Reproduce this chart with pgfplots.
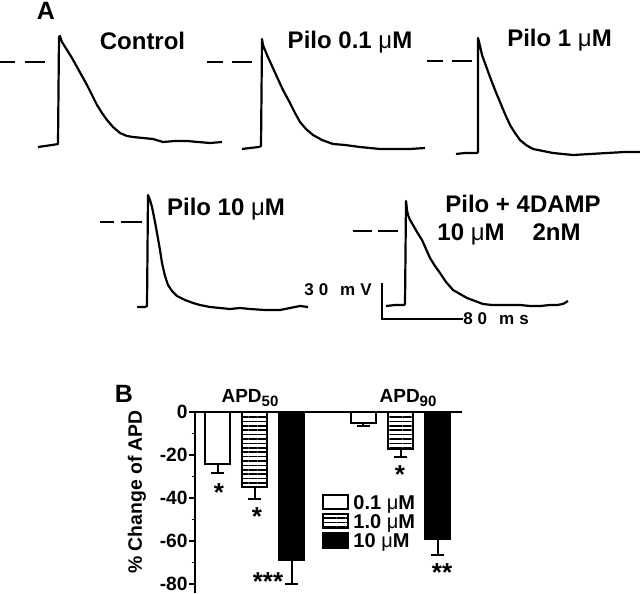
\documentclass[border=0pt]{standalone}
\usepackage{fontspec}
\setmainfont{Liberation Sans}
\usepackage{pgfplots}
\pgfplotsset{compat=1.18}
\usetikzlibrary{patterns.meta}

% 1 px of the reference = 0.5pt
\pgfplotsset{
  trace/.style={black, line width=1.1pt, no markers, line join=round},
  dash/.style={black, line width=1.3pt, no markers},
  boxleg/.style={legend image code/.code={\draw[##1] (0pt,-3.6pt) rectangle (12.5pt,3.6pt);}},
  errs/.style={error bars/.cd, y dir=minus, y explicit, error bar style={line width=1pt},
    error mark options={rotate=90, line width=1pt, mark size=3.25pt}},
}
\tikzset{hatch/.style={pattern={Lines[angle=0,distance=2.2pt,line width=0.85pt]}}}
\newcommand{\lbl}{\bfseries\fontsize{12}{14}\selectfont}
\newcommand{\um}{{\mdseries μ}M}

\begin{document}
\begin{tikzpicture}
\useasboundingbox (0,0) rectangle (320pt,296.5pt);

% ---- panel B: bar chart
\begin{axis}[at={(97.5pt,0pt)}, anchor=south west,
  x=0.5pt, y=1.075pt,
  xmin=195, xmax=462, ymin=-84.2, ymax=0, clip=false,
  axis x line*=top, axis y line*=left,
  axis line style={line width=1pt},
  xtick=\empty,
  ytick={-80,-60,-40,-20,0}, yticklabels={-80,-60,-40,-20,0},
  minor ytick={-70,-50,-30,-10},
  tick align=outside, major tick length=3pt, minor tick length=1.6pt,
  tick style={line width=0.9pt, black},
  yticklabel style={font=\bfseries\fontsize{9.6}{11}\selectfont, inner sep=0.5pt},
  legend cell align=left,
  legend style={at={(axis description cs:0.476,0.552)}, anchor=north west,
    draw=none, fill=none, inner sep=0pt, row sep=1pt, column sep=1.5pt,
    font=\bfseries\fontsize{10}{12}\selectfont,
    nodes={inner sep=0.5pt, text height=7.3pt, text depth=0.3pt}},
  ]
\addplot[ybar, bar shift=0pt, bar width=25, draw=black, fill=white, line width=1pt, forget plot, errs]
  coordinates {(217.5,-24.3) +- (0,4.1) (363,-5.0) +- (0,1.6)};
\addplot[ybar, bar shift=0pt, bar width=25, draw=black, hatch, line width=1pt, forget plot, errs]
  coordinates {(254.5,-34.8) +- (0,5.9) (400.5,-17.4) +- (0,3.6)};
\addplot[ybar, bar shift=0pt, bar width=25, draw=black, fill=black, line width=1pt, forget plot, errs]
  coordinates {(291.5,-69.0) +- (0,11.0) (437.5,-59.0) +- (0,7.4)};
\addlegendimage{boxleg, draw=black, line width=1pt, fill=white}
\addlegendentry{0.1 \um}
\addlegendimage{boxleg, draw=black, line width=1pt, hatch}
\addlegendentry{1.0 \um}
\addlegendimage{boxleg, draw=black, line width=1pt, fill=black}
\addlegendentry{10 \um}
\end{axis}

% ---- panel A traces and all labels, in pixel coordinates
\begin{axis}[at={(0pt,0pt)}, anchor=south west,
  x=0.5pt, y=0.5pt, xmin=0, xmax=640, ymin=0, ymax=593, y dir=reverse,
  hide axis, clip=false]
% Control
\addplot[dash] coordinates {(0,62)(15,62)};
\addplot[dash] coordinates {(25,62)(45,62)};
\addplot[trace] coordinates {(38,147)(45,146)(52,145)(58,144)(59,37)(60,36)(62,42)(67,50)(72,58)(77,67)(82,76)(87,85)(92,95)(97,105)(102,113)(107,120)(113,127)(120,133)(127,136)(133,137)(143,138)(153,139)(163,142)(175,141)(187,141)(198,142)(210,143)(222,142)};
% Pilo 0.1
\addplot[dash] coordinates {(207,62)(223,62)};
\addplot[dash] coordinates {(232,62)(252,62)};
\addplot[trace] coordinates {(242,149)(250,148)(259,147)(261,146)(262,39)(263,45)(267,55)(272,66)(277,77)(283,90)(290,103)(295,113)(300,122)(306,129)(313,135)(322,140)(333,144)(345,145)(360,147)(370,148)(380,149)(395,149)(410,149)(425,148)};
% Pilo 1
\addplot[dash] coordinates {(427,61)(443,61)};
\addplot[dash] coordinates {(452,61)(472,61)};
\addplot[trace] coordinates {(456,154)(465,153)(477,153)(478,152)(478,38)(480,46)(482,55)(486,66)(490,77)(495,90)(500,102)(505,114)(510,125)(515,133)(520,140)(526,145)(533,149)(543,151)(553,153)(563,154)(573,155)(590,154)(607,153)(625,152)(640,152)};
% Pilo 10
\addplot[dash] coordinates {(100,222)(114,222)};
\addplot[dash] coordinates {(121,222)(142,222)};
\addplot[trace] coordinates {(137,307)(145,307)(147,306)(148,195)(150,200)(152,207)(155,222)(157,233)(160,250)(162,263)(165,276)(168,285)(172,291)(177,296)(185,300)(193,303)(200,305)(210,307)(220,308)(230,309)(240,308)(250,309)(265,310)(280,310)(290,308)(300,306)(308,307)};
% Pilo + 4DAMP
\addplot[dash] coordinates {(353,231)(372,231)};
\addplot[dash] coordinates {(378,231)(398,231)};
\addplot[trace] coordinates {(386,306)(395,305)(404,305)(405,304)(406,201)(407,210)(408,215)(410,220)(413,225)(417,232)(422,240)(426,249)(430,258)(435,266)(440,273)(446,282)(453,290)(460,294)(467,298)(475,301)(483,304)(492,305)(500,305)(510,305)(520,305)(530,306)(540,306)(550,305)(557,305)(563,304)(568,301)};
% scale bars
\addplot[black, line width=0.6pt, no markers] coordinates {(382,283)(382,319)(463,319)};

\node[anchor=base, font=\bfseries\fontsize{12.5}{14}\selectfont] at (46,20) {A};
\node[anchor=base, font=\lbl] at (142.5,50) {Control};
\node[anchor=base, font=\lbl] at (350,48.5) {Pilo 0.1 \um};
\node[anchor=base, font=\lbl] at (559.5,46.5) {Pilo 1 \um};
\node[anchor=base, font=\lbl] at (226,215) {Pilo 10 \um};
\node[anchor=base, font=\lbl] at (523,212) {Pilo + 4DAMP};
\node[anchor=base, font=\lbl] at (471,240) {10 \um};
\node[anchor=base, font=\lbl] at (556.5,240) {2nM};
\node[anchor=base, font=\bfseries\fontsize{8.5}{10}\selectfont] at (338,295) {3\hspace{2.5pt}0\hspace{6pt}m\hspace{2.5pt}V};
\node[anchor=base, font=\bfseries\fontsize{8.5}{10}\selectfont] at (496,324) {8\hspace{2.5pt}0\hspace{6pt}m\hspace{2.5pt}s};

\node[anchor=base, font=\bfseries\fontsize{12.5}{14}\selectfont] at (124,402) {B};
\node[anchor=base, font=\bfseries\fontsize{9.5}{11}\selectfont] at (250,402) {APD\raisebox{-2pt}{\fontsize{7.5}{8}\selectfont 50}};
\node[anchor=base, font=\bfseries\fontsize{9.5}{11}\selectfont] at (408,402) {APD\raisebox{-2pt}{\fontsize{7.5}{8}\selectfont 90}};
\node[rotate=90, font=\bfseries\fontsize{9.7}{11}\selectfont] at (137,492) {\% Change of APD};

\node[anchor=north, inner sep=0pt, font=\bfseries\fontsize{13}{14}\selectfont] at (219,483) {*};
\node[anchor=north, inner sep=0pt, font=\bfseries\fontsize{13}{14}\selectfont] at (257,507) {*};
\node[anchor=north, inner sep=0pt, font=\bfseries\fontsize{13}{14}\selectfont] at (268,572) {***};
\node[anchor=north, inner sep=0pt, font=\bfseries\fontsize{13}{14}\selectfont] at (400,465) {*};
\node[anchor=north, inner sep=0pt, font=\bfseries\fontsize{13}{14}\selectfont] at (442,563) {**};
\end{axis}
\end{tikzpicture}
\end{document}
